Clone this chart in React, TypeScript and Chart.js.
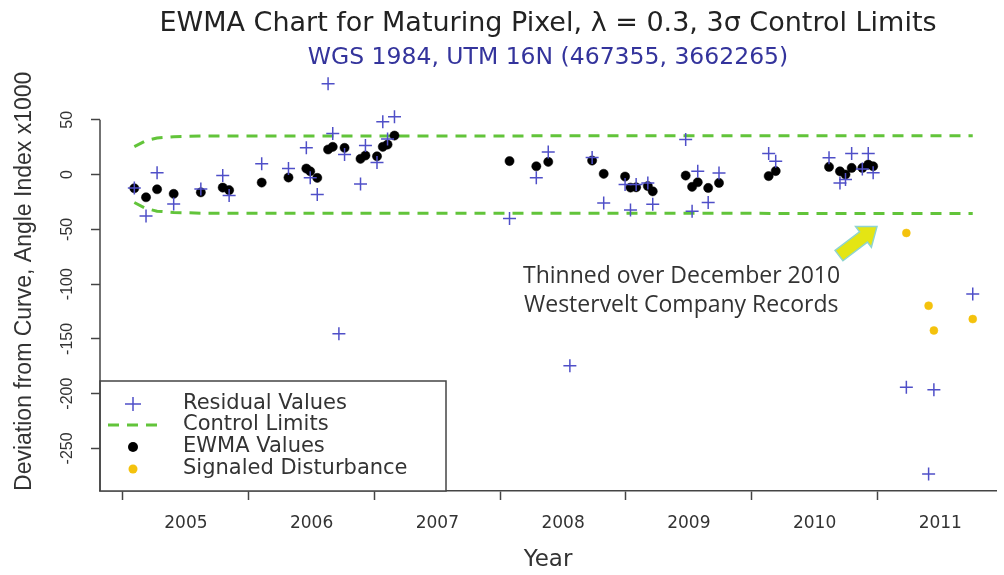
import React, { useEffect, useRef } from 'react';
import { Chart, registerables } from 'chart.js';

Chart.register(...registerables);

const TITLE = 'EWMA Chart for Maturing Pixel, λ = 0.3, 3σ Control Limits';
const SUBTITLE = 'WGS 1984, UTM 16N (467355, 3662265)';
const X_TITLE = 'Year';
const Y_TITLE = 'Deviation from Curve, Angle Index x1000';
const NOTE_LINES = ['Thinned over December 2010', 'Westervelt Company Records'];

const yearTicks = [2005, 2006, 2007, 2008, 2009, 2010, 2011];
const valueTicks = [-250, -200, -150, -100, -50, 0, 50];

// observation dates (decimal years) that enter the EWMA
const obsYears = [
  2005.091, 2005.184, 2005.272, 2005.404, 2005.62, 2005.794, 2005.845, 2006.104, 2006.317, 2006.459,
  2006.49, 2006.546, 2006.632, 2006.669, 2006.763, 2006.89, 2006.929, 2007.021, 2007.067, 2007.105,
  2007.16,
  2008.075, 2008.288, 2008.383, 2008.732, 2008.824, 2008.994, 2009.037, 2009.082, 2009.175, 2009.214,
  2009.476, 2009.527, 2009.572, 2009.655, 2009.741,
  2010.136, 2010.192, 2010.616, 2010.703, 2010.747, 2010.796, 2010.881, 2010.928, 2010.967,
];
const residualValues = [
  -12.2, -37.9, 1.6, -26.8, -13.1, -0.9, -19.2, 9.8, 5.5, 24.4,
  -3.0, -18.3, 82.9, 37.5, 18.3, -8.5, 26.5, 11.0, 48.2, 32.4,
  52.7,
  -40.2, -3.0, 20.6, 15.5, -25.9, -9.1, -32.4, -9.1, -7.6, -27.0,
  32.0, -33.5, 3.0, -25.6, 1.4,
  19.2, 12.2, 15.3, -7.6, -4.6, 19.2, 5.2, 19.2, 1.6,
];
const ewmaValues = [
  -12.5, -20.7, -13.4, -17.6, -16.2, -11.9, -14.2, -7.3, -2.7, 5.5,
  3.0, -3.0, 22.9, 25.3, 24.4, 14.4, 17.4, 16.7, 25.3, 27.4,
  35.6,
  12.3, 7.6, 11.6, 12.8, 0.7, -1.8, -11.9, -11.6, -10.5, -15.3,
  -0.9, -11.2, -7.0, -12.2, -7.6,
  -1.4, 3.2, 7.0, 3.0, 0.0, 6.1, 6.1, 9.1, 7.6,
];

// signaled disturbance (after thinning)
const signalYears = [2011.231, 2011.408, 2011.45, 2011.759];
const signalResiduals = [-194.1, -273.3, -196.5, -109.0];
const signalEwma = [-53.3, -119.7, -142.3, -131.9];

// residual outliers not carried into the EWMA
const outlierYears = [2006.718, 2008.555];
const outlierResiduals = [-145.3, -174.6];

// control limits
const limitYears = [2005.091, 2005.184, 2005.272, 2005.404, 2005.62, 2011.759];
const upperLimit = [25.5, 31.0, 33.4, 34.6, 35.2, 35.5];
const lowerLimit = [-25.5, -31.0, -33.4, -34.6, -35.2, -35.5];

const BLUE = '#4f4fc8';
const GREEN = '#62c43a';
const YELLOW = '#f4c20d';
const AXIS = '#444';
const TEXT = '#333';
const SANS = "'DejaVu Sans', sans-serif";
const LIB = "'Liberation Sans', Arial, sans-serif";

const pts = (xs: number[], ys: number[]) => xs.map((x, i) => ({ x, y: ys[i] }));

const legendPlugin = {
  id: 'boxLegend',
  afterDatasetsDraw(chart: any) {
    const { ctx, chartArea } = chart;
    const left = chartArea.left;
    const bottom = chartArea.bottom;
    const top = bottom - 110;
    const right = left + 346;
    const ds = chart.data.datasets;
    ctx.save();
    ctx.fillStyle = '#fff';
    ctx.fillRect(left, top, right - left, bottom - top);
    ctx.strokeStyle = AXIS;
    ctx.lineWidth = 1.5;
    ctx.strokeRect(left, top, right - left, bottom - top);
    const symX = left + 33;
    const textX = left + 83;
    const rows = [bottom - 87, bottom - 66, bottom - 44, bottom - 22];
    // residual cross
    ctx.strokeStyle = BLUE;
    ctx.lineWidth = 1.5;
    ctx.beginPath();
    ctx.moveTo(symX - 8, rows[0]);
    ctx.lineTo(symX + 8, rows[0]);
    ctx.moveTo(symX, rows[0] - 7);
    ctx.lineTo(symX, rows[0] + 7);
    ctx.stroke();
    // control limit dash
    ctx.strokeStyle = GREEN;
    ctx.lineWidth = 3;
    ctx.setLineDash([11, 8]);
    ctx.beginPath();
    ctx.moveTo(left + 8, rows[1]);
    ctx.lineTo(left + 58, rows[1]);
    ctx.stroke();
    ctx.setLineDash([]);
    // ewma dot
    ctx.fillStyle = '#000';
    ctx.beginPath();
    ctx.arc(symX, rows[2], 5, 0, Math.PI * 2);
    ctx.fill();
    // signaled dot
    ctx.fillStyle = YELLOW;
    ctx.beginPath();
    ctx.arc(symX, rows[3], 4.5, 0, Math.PI * 2);
    ctx.fill();
    ctx.fillStyle = TEXT;
    ctx.font = `21px ${SANS}`;
    ctx.textBaseline = 'middle';
    ctx.textAlign = 'left';
    const labels = [ds[0].label, ds[3].label, ds[1].label, ds[2].label];
    labels.forEach((l: string, i: number) => ctx.fillText(l, textX, rows[i]));
    ctx.restore();
  },
};

const notePlugin = {
  id: 'note',
  afterDraw(chart: any) {
    const { ctx, chartArea } = chart;
    const l = chartArea.left;
    const t = chartArea.top;
    ctx.save();
    ctx.fillStyle = TEXT;
    ctx.font = `23px 'Open Sans', sans-serif`;
    ctx.textAlign = 'left';
    ctx.textBaseline = 'alphabetic';
    ctx.fillText(NOTE_LINES[0], l + 423, t + 211);
    ctx.fillText(NOTE_LINES[1], l + 424, t + 240);
    // block arrow
    const tail = { x: l + 739, y: t + 184 };
    const tip = { x: l + 777, y: t + 155 };
    const dx = tip.x - tail.x;
    const dy = tip.y - tail.y;
    const len = Math.hypot(dx, dy);
    const ux = dx / len;
    const uy = dy / len;
    const nx = -uy;
    const ny = ux;
    const headLen = 17;
    const headHalf = 13;
    const shaftHalf = 6.5;
    const bx = tip.x - ux * headLen;
    const by = tip.y - uy * headLen;
    ctx.beginPath();
    ctx.moveTo(tail.x + nx * shaftHalf, tail.y + ny * shaftHalf);
    ctx.lineTo(bx + nx * shaftHalf, by + ny * shaftHalf);
    ctx.lineTo(bx + nx * headHalf, by + ny * headHalf);
    ctx.lineTo(tip.x, tip.y);
    ctx.lineTo(bx - nx * headHalf, by - ny * headHalf);
    ctx.lineTo(bx - nx * shaftHalf, by - ny * shaftHalf);
    ctx.lineTo(tail.x - nx * shaftHalf, tail.y - ny * shaftHalf);
    ctx.closePath();
    ctx.fillStyle = '#e4e514';
    ctx.fill();
    ctx.strokeStyle = '#8fd4cf';
    ctx.lineWidth = 1.5;
    ctx.stroke();
    ctx.restore();
  },
};

const yAxisLinePlugin = {
  id: 'yAxisLine',
  afterDraw(chart: any) {
    const { ctx, chartArea, scales } = chart;
    const yTop = scales.y.getPixelForValue(valueTicks[valueTicks.length - 1]);
    ctx.save();
    ctx.strokeStyle = AXIS;
    ctx.lineWidth = 1.5;
    ctx.beginPath();
    ctx.moveTo(chartArea.left, yTop);
    ctx.lineTo(chartArea.left, chartArea.bottom);
    ctx.stroke();
    ctx.restore();
  },
};

export default function App() {
  const ref = useRef<HTMLCanvasElement>(null);
  useEffect(() => {
    document.body.style.margin = '0';
    const canvas = ref.current;
    if (!canvas) return;
    const chart = new Chart(canvas, {
      type: 'scatter',
      data: {
        datasets: [
          {
            label: 'Residual Values',
            data: [
              ...pts(obsYears, residualValues),
              ...pts(outlierYears, outlierResiduals),
              ...pts(signalYears, signalResiduals),
            ],
            pointStyle: 'cross',
            pointRadius: 6.5,
            borderColor: BLUE,
            backgroundColor: BLUE,
            borderWidth: 1.5,
          },
          {
            label: 'EWMA Values',
            data: pts(obsYears, ewmaValues),
            pointStyle: 'circle',
            pointRadius: 4.6,
            backgroundColor: '#000',
            borderColor: '#000',
            borderWidth: 0.5,
          },
          {
            label: 'Signaled Disturbance',
            data: pts(signalYears, signalEwma),
            pointStyle: 'circle',
            pointRadius: 4,
            backgroundColor: YELLOW,
            borderColor: YELLOW,
            borderWidth: 0.5,
          },
          {
            label: 'Control Limits',
            data: pts(limitYears, upperLimit),
            showLine: true,
            pointRadius: 0,
            borderColor: GREEN,
            borderWidth: 3,
            borderDash: [11, 8],
            tension: 0,
          },
          {
            label: 'Control Limits (lower)',
            data: pts(limitYears, lowerLimit),
            showLine: true,
            pointRadius: 0,
            borderColor: GREEN,
            borderWidth: 3,
            borderDash: [11, 8],
            tension: 0,
          },
        ],
      },
      options: {
        responsive: false,
        animation: false,
        devicePixelRatio: 1,
        layout: { padding: { left: 0, right: 4, top: 0, bottom: 0 } },
        plugins: {
          legend: { display: false },
          tooltip: { enabled: false },
          title: {
            display: true,
            text: TITLE,
            fullSize: false,
            color: '#222',
            font: { family: SANS, size: 27, weight: 'normal' },
            padding: { top: 8, bottom: 0 },
          },
          subtitle: {
            display: true,
            text: SUBTITLE,
            fullSize: false,
            color: '#34349c',
            font: { family: SANS, size: 23.5, weight: 'normal' },
            padding: { top: 3, bottom: 0 },
          },
        },
        scales: {
          x: {
            type: 'linear',
            min: 2004.818,
            max: 2011.944,
            afterBuildTicks: (s: any) => {
              s.ticks = yearTicks.map((v) => ({ value: v }));
            },
            afterFit: (s: any) => {
              s.height = 84;
            },
            grid: {
              drawOnChartArea: false,
              drawTicks: true,
              tickLength: 9,
              tickColor: AXIS,
              tickWidth: 1.5,
            },
            border: { display: true, color: AXIS, width: 1.5 },
            ticks: {
              autoSkip: false,
              maxRotation: 0,
              minRotation: 0,
              labelOffset: 63,
              padding: 13,
              color: TEXT,
              font: { family: SANS, size: 17 },
              callback: (v: any) => String(v),
            },
            title: {
              display: true,
              text: X_TITLE,
              color: TEXT,
              font: { family: SANS, size: 23 },
              padding: { top: 0, bottom: 1 },
            },
          },
          y: {
            type: 'linear',
            min: -288.85,
            max: 94.0,
            afterBuildTicks: (s: any) => {
              s.ticks = valueTicks.map((v) => ({ value: v }));
            },
            afterFit: (s: any) => {
              s.width = 100;
            },
            grid: {
              drawOnChartArea: false,
              drawTicks: true,
              tickLength: 9,
              tickColor: AXIS,
              tickWidth: 1.5,
            },
            border: { display: false },
            ticks: {
              minRotation: 90,
              maxRotation: 90,
              crossAlign: 'center',
              padding: 7,
              color: TEXT,
              font: { family: LIB, size: 16 },
              callback: (v: any) => String(v),
            },
            title: {
              display: true,
              text: Y_TITLE,
              color: TEXT,
              font: { family: LIB, size: 23 },
              padding: { top: 11, bottom: 0 },
            },
          },
        },
      },
      plugins: [yAxisLinePlugin, legendPlugin, notePlugin],
    } as any);
    return () => chart.destroy();
  }, []);
  return (
    <div style={{ width: 1004, height: 575 }}>
      <canvas ref={ref} width={1004} height={575} style={{ display: 'block' }} />
    </div>
  );
}
